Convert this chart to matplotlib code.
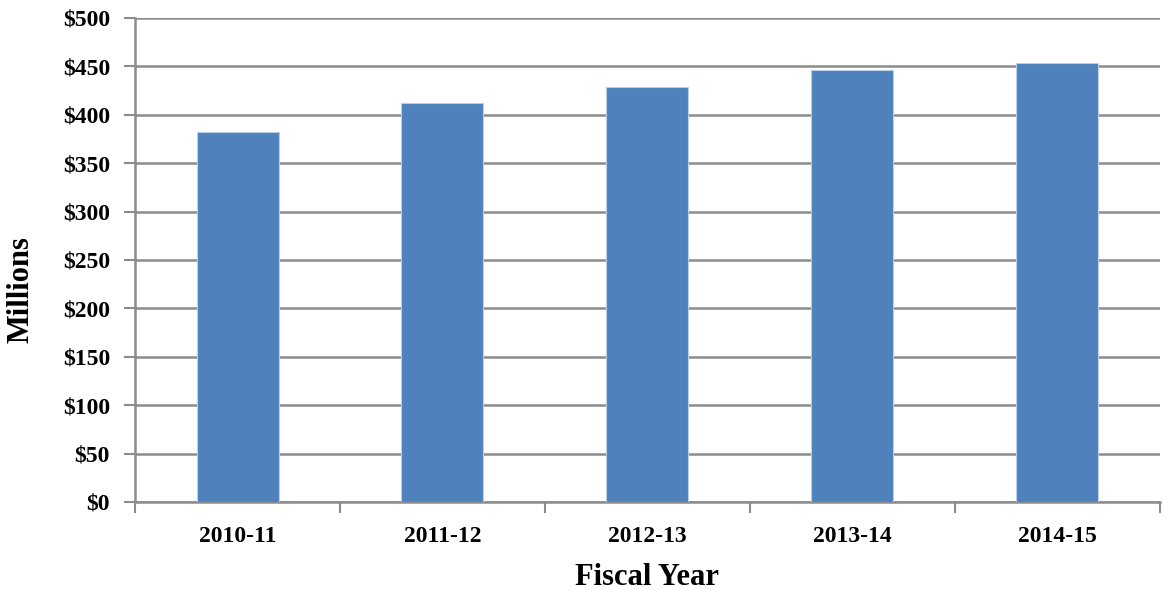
import matplotlib.pyplot as plt
import matplotlib.ticker as mticker

years = ["2010-11", "2011-12", "2012-13", "2013-14", "2014-15"]
millions = [382, 412, 429, 446, 453]

plt.rcParams['font.family'] = ['Liberation Serif', 'DejaVu Serif']
plt.rcParams['font.weight'] = 'bold'
plt.rcParams['axes.labelweight'] = 'bold'

fig = plt.figure(figsize=(11.62, 5.9), dpi=100)
ax = fig.add_axes([0.1162, 0.1492, 0.882, 0.8203])

grid_col = '#8c8c8c'
x = range(len(years))
ax.bar(x, millions, width=0.4, color='#4f81bd', edgecolor='#b9cde5',
       linewidth=0.8, zorder=3)

ax.set_xlim(-0.5, len(years) - 0.5)
ax.set_ylim(0, 500)
ax.yaxis.set_major_locator(mticker.MultipleLocator(50))
ax.yaxis.set_major_formatter(mticker.FuncFormatter(lambda v, p: f"${v:.0f}"))
ax.grid(axis='y', color=grid_col, linewidth=1.8, zorder=0)

ax.set_xticks(list(x))
ax.set_xticklabels(years)
ax.set_xticks([i - 0.5 for i in range(len(years) + 1)], minor=True)
ax.tick_params(axis='x', which='major', length=0, pad=17, labelsize=17)
ax.tick_params(axis='x', which='minor', length=8, width=1.5, color=grid_col,
               direction='out')
ax.tick_params(axis='y', length=8, width=1.5, color=grid_col, labelsize=17,
               pad=10)

for s in ['top', 'right']:
    ax.spines[s].set_visible(False)
for s in ['left', 'bottom']:
    ax.spines[s].set_color(grid_col)
    ax.spines[s].set_linewidth(1.8)

ax.set_ylabel("Millions", fontsize=22)
ax.yaxis.set_label_coords(-0.097, 0.438)
ax.set_xlabel("Fiscal Year", fontsize=22, labelpad=12)

fig.savefig('out.png', dpi=100)
